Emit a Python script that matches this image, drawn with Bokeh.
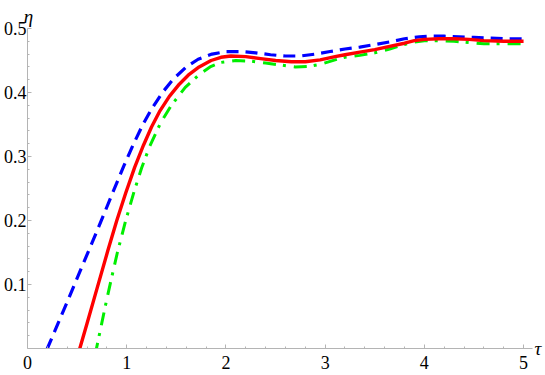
from bokeh.plotting import figure
from bokeh.models import FixedTicker, LinearAxis, Range1d
from bokeh.embed import file_html
from bokeh.resources import INLINE

# ---- data ----
blue_x = [0.12, 0.20, 0.31, 0.42, 0.53, 0.65, 0.76, 0.863, 0.97, 1.07, 1.16, 1.25, 1.36, 1.47, 1.60, 1.72,
          1.86, 2.0, 2.15, 2.3, 2.45, 2.6, 2.75, 2.9, 3.05, 3.2, 3.35, 3.5, 3.65, 3.8, 3.95, 4.05, 4.2, 4.35,
          4.5, 4.65, 4.8, 5.0]
blue_y = [-0.029, 0.0, 0.040, 0.080, 0.121, 0.165, 0.206, 0.245, 0.285, 0.320, 0.349, 0.374, 0.400, 0.421, 0.440, 0.452,
          0.460, 0.464, 0.464, 0.462, 0.459, 0.457, 0.457, 0.46, 0.464, 0.468, 0.471, 0.475, 0.479, 0.484, 0.487, 0.488, 0.488, 0.487,
          0.486, 0.485, 0.484, 0.484]

red_x = [0.49, 0.527, 0.60, 0.668, 0.74, 0.81, 0.90, 0.99, 1.08, 1.17, 1.25, 1.33, 1.43, 1.53, 1.62, 1.73,
         1.85, 1.95, 2.05, 2.2, 2.35, 2.5, 2.66, 2.8, 2.95, 3.1, 3.2, 3.35, 3.5, 3.65, 3.8, 3.9, 4.0, 4.15,
         4.3, 4.45, 4.6, 4.8, 5.0]
red_y = [-0.02, 0.0, 0.039, 0.076, 0.115, 0.153, 0.200, 0.243, 0.283, 0.318, 0.346, 0.370, 0.394, 0.413, 0.427, 0.440,
         0.450, 0.455, 0.457, 0.456, 0.453, 0.45, 0.448, 0.448, 0.451, 0.456, 0.459, 0.463, 0.467, 0.472, 0.477, 0.481, 0.483, 0.484,
         0.484, 0.483, 0.481, 0.48, 0.48]

green_x = [0.68, 0.695, 0.745, 0.795, 0.85, 0.906, 0.99, 1.074, 1.15, 1.232, 1.34, 1.45, 1.59, 1.73, 1.84, 1.95,
           2.1, 2.25, 2.4, 2.55, 2.7, 2.85, 2.95, 3.1, 3.2, 3.35, 3.5, 3.65, 3.8, 3.9, 4.0, 4.15, 4.3, 4.45,
           4.6, 4.8, 5.0]
green_y = [-0.011, 0.0, 0.037, 0.074, 0.112, 0.150, 0.200, 0.245, 0.282, 0.316, 0.352, 0.380, 0.408, 0.428, 0.440, 0.447,
           0.45, 0.449, 0.446, 0.443, 0.44, 0.441, 0.444, 0.451, 0.455, 0.458, 0.462, 0.468, 0.475, 0.479, 0.481, 0.481, 0.48, 0.478,
           0.476, 0.476, 0.476]

x_ticks = [0, 1, 2, 3, 4, 5]
x_minor = [0.2, 0.4, 0.6, 0.8, 1.2, 1.4, 1.6, 1.8, 2.2, 2.4, 2.6, 2.8, 3.2, 3.4, 3.6, 3.8, 4.2, 4.4, 4.6, 4.8]
y_ticks = [0.1, 0.2, 0.3, 0.4, 0.5]
y_minor = [0.02, 0.04, 0.06, 0.08, 0.12, 0.14, 0.16, 0.18, 0.22, 0.24, 0.26, 0.28,
           0.32, 0.34, 0.36, 0.38, 0.42, 0.44, 0.46, 0.48]
y_labels = {0.1: "0.1", 0.2: "0.2", 0.3: "0.3", 0.4: "0.4", 0.5: "0.5"}
x_name = "τ"
y_name = "η"

FONT = "Liberation Serif"
AXIS_COLOR = "#b4b4b4"

p = figure(width=545, height=375, output_backend="svg", toolbar_location=None,
           x_range=Range1d(0, 5.09), y_range=Range1d(0, 0.5),
           min_border_top=28, min_border_right=13, min_border_left=24, min_border_bottom=27)
p.grid.visible = False
p.outline_line_color = None
p.background_fill_color = "white"
p.border_fill_color = "white"

for ax in (p.xaxis[0], p.yaxis[0]):
    ax.axis_line_color = AXIS_COLOR
    ax.major_tick_line_color = AXIS_COLOR
    ax.minor_tick_line_color = AXIS_COLOR
    ax.major_tick_in = 4
    ax.major_tick_out = 0
    ax.minor_tick_in = 2
    ax.minor_tick_out = 0
    ax.major_label_text_font = FONT
    ax.major_label_text_font_size = "18px"
    ax.major_label_text_color = "black"

p.xaxis[0].ticker = FixedTicker(ticks=x_ticks, minor_ticks=x_minor)
p.xaxis[0].major_label_standoff = 7
p.yaxis[0].ticker = FixedTicker(ticks=y_ticks, minor_ticks=y_minor)
p.yaxis[0].major_label_overrides = y_labels
p.yaxis[0].major_label_standoff = 1

# axis names as single-label axes (tau right of the x axis end, eta above the y axis top)
tau_axis = LinearAxis(ticker=FixedTicker(ticks=[0], minor_ticks=[]), major_label_overrides={0: x_name},
                      axis_line_color=None, major_tick_line_color=None, minor_tick_line_color=None,
                      major_tick_in=0, major_tick_out=0, minor_tick_in=0, minor_tick_out=0,
                      major_label_orientation="horizontal", major_label_standoff=2,
                      major_label_text_font=FONT, major_label_text_font_style="italic",
                      major_label_text_font_size="19px", major_label_text_color="black")
eta_axis = LinearAxis(ticker=FixedTicker(ticks=[0.01], minor_ticks=[]), major_label_overrides={0.01: y_name},
                      axis_line_color=None, major_tick_line_color=None, minor_tick_line_color=None,
                      major_tick_in=0, major_tick_out=0, minor_tick_in=0, minor_tick_out=0,
                      major_label_standoff=2,
                      major_label_text_font=FONT, major_label_text_font_style="italic",
                      major_label_text_font_size="19px", major_label_text_color="black")
p.add_layout(tau_axis, "right")
p.add_layout(eta_axis, "above")

p.line(blue_x, blue_y, line_color="#0000ff", line_width=3.2, line_dash="12 7", line_join="round")
p.line(green_x, green_y, line_color="#00ee00", line_width=3.0, line_dash="13 7 3 8", line_join="round")
p.line(red_x, red_y, line_color="#ff0000", line_width=3.4, line_join="round")

open("out.html", "w").write(file_html(p, INLINE))
